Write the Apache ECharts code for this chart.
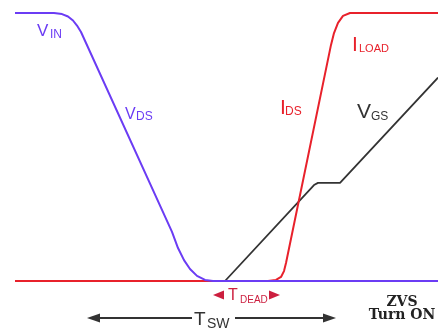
<!DOCTYPE html>
<html>
<head>
<meta charset="utf-8">
<script src="https://cdn.jsdelivr.net/npm/echarts@6/dist/echarts.min.js"></script>
<style>
  html, body { margin: 0; padding: 0; background: #fff; }
  #chart { width: 438px; height: 335px; }
</style>
</head>
<body>
<div id="chart"></div>
<script>
// Switching waveforms: time in ns, level in % of full scale
const vdsTime  = [7.5, 27, 31, 34, 36.5, 38.5, 40.5, 86, 89, 92, 95, 98.5, 102.5, 106.5, 219];
const vdsLevel = [100, 100, 99.6, 98.7, 97.2, 95.3, 92.9, 18.3, 12.3, 7.8, 4.5, 1.9, 0.4, 0, 0];

const idsTime  = [7.5, 134, 138, 140.5, 142, 143, 165.5, 167, 169, 171.5, 175, 219];
const idsLevel = [0, 0, 0.4, 1.5, 3.7, 6.7, 88.1, 92.5, 96.3, 98.9, 100, 100];

const vgsTime  = [112.5, 157, 159, 170, 219];
const vgsLevel = [0, 35.8, 36.6, 36.6, 75.9];

// Interval markers (ns)
const deadWindow   = [106.5, 140];
const switchWindow = [43.5, 168];

const BLUE = '#6b3cf4';
const RED = '#e8212b';
const CRIMSON = '#cc1f3f';
const DARK = '#333333';
const SANS = '"Liberation Sans", Arial, sans-serif';
const SERIF = '"DejaVu Serif", serif';

const zip = (a, b) => a.map((v, i) => [v, b[i]]);

const chart = echarts.init(document.getElementById('chart'), null, { renderer: 'canvas' });

chart.setOption({
  animation: false,
  grid: { left: 0, right: 0, top: 13, bottom: 54 },
  xAxis: { type: 'value', min: 0, max: 219, show: false },
  yAxis: { type: 'value', min: 0, max: 100, show: false },
  series: [
    { name: 'VGS', type: 'line', data: zip(vgsTime, vgsLevel), symbol: 'none', clip: false,
      lineStyle: { color: DARK, width: 1.8 } },
    { name: 'IDS', type: 'line', data: zip(idsTime, idsLevel), symbol: 'none', clip: false,
      lineStyle: { color: RED, width: 2, join: 'round' } },
    { name: 'VDS', type: 'line', data: zip(vdsTime, vdsLevel), symbol: 'none', clip: false,
      lineStyle: { color: BLUE, width: 2, join: 'round' } }
  ]
});

// Text with a subscript, both vertically centred on their cap heights
function subLabel(x, y, main, sub, color, mainSize, subSize, subDx, subDy) {
  return [
    { type: 'text', z: 10, style: { x: x, y: y, text: main, fill: color,
      fontSize: mainSize, fontFamily: SANS, verticalAlign: 'middle' } },
    { type: 'text', z: 10, style: { x: x + subDx, y: y + subDy, text: sub, fill: color,
      fontSize: subSize, fontFamily: SANS, verticalAlign: 'middle' } }
  ];
}

function arrowHead(tipX, y, dir, len, half, color) {
  const bx = tipX - dir * len;
  return { type: 'polygon', z: 10, shape: { points: [[tipX, y], [bx, y - half], [bx, y + half]] },
    style: { fill: color } };
}

const px = t => chart.convertToPixel({ gridIndex: 0 }, [t, 0])[0];

const d0 = px(deadWindow[0]), d1 = px(deadWindow[1]);
const s0 = px(switchWindow[0]), s1 = px(switchWindow[1]);
const deadY = 295, swY = 318;

const graphics = [].concat(
  subLabel(37, 31, 'V', 'IN', BLUE, 17, 12, 13, 4),
  subLabel(125, 115, 'V', 'DS', BLUE, 16, 12, 11, 2),
  subLabel(280, 108, 'I', 'DS', RED, 21, 12, 5, 4),
  subLabel(352, 45, 'I', 'LOAD', RED, 21, 11, 7, 4),
  subLabel(357, 112, 'V', 'GS', DARK, 21, 12, 14, 5),
  // dead time
  [arrowHead(d0, deadY, -1, 11, 4.5, CRIMSON), arrowHead(d1, deadY, 1, 11, 4.5, CRIMSON)],
  subLabel(d0 + 15, deadY + 1, 'T', 'DEAD', CRIMSON, 16, 10, 12, 4),
  // switching period
  [
    arrowHead(s0, swY, -1, 13, 4.5, DARK),
    arrowHead(s1, swY, 1, 13, 4.5, DARK),
    { type: 'line', z: 9, shape: { x1: s0 + 12, y1: swY, x2: 192, y2: swY }, style: { stroke: DARK, lineWidth: 2 } },
    { type: 'line', z: 9, shape: { x1: 235, y1: swY, x2: s1 - 12, y2: swY }, style: { stroke: DARK, lineWidth: 2 } }
  ],
  subLabel(194, swY + 2, 'T', 'SW', DARK, 19, 14, 13, 4),
  [
    { type: 'text', z: 10, style: { x: 402, y: 302, text: 'ZVS', fill: '#222', fontSize: 14,
      fontWeight: 'bold', fontFamily: SERIF, align: 'center', verticalAlign: 'middle' } },
    { type: 'text', z: 10, style: { x: 402, y: 315, text: 'Turn ON', fill: '#222', fontSize: 14,
      fontWeight: 'bold', fontFamily: SERIF, align: 'center', verticalAlign: 'middle' } }
  ]
);

chart.setOption({ graphic: graphics });
</script>
</body>
</html>
